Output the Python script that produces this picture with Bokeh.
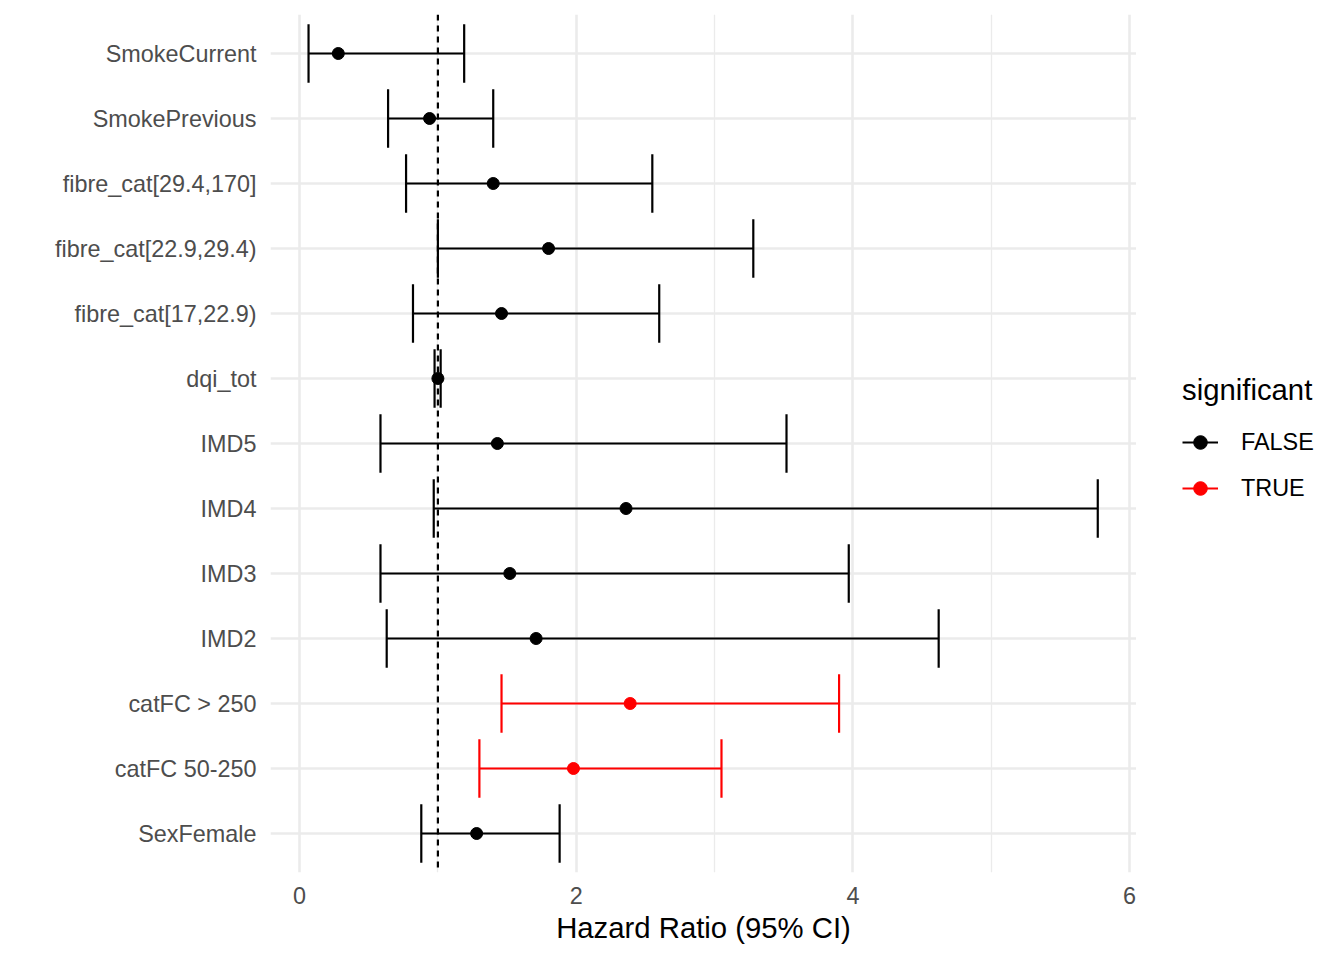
from bokeh.plotting import figure
from bokeh.layouts import row
from bokeh.models import ColumnDataSource, Span, Legend, LegendItem, FixedTicker, Range1d
from bokeh.embed import file_html
from bokeh.resources import INLINE

terms = ["SexFemale", "catFC 50-250", "catFC > 250", "IMD2", "IMD3", "IMD4", "IMD5",
         "dqi_tot", "fibre_cat[17,22.9)", "fibre_cat[22.9,29.4)", "fibre_cat[29.4,170]",
         "SmokePrevious", "SmokeCurrent"]
hr = [1.28, 1.98, 2.39, 1.71, 1.52, 2.36, 1.43, 1.00, 1.46, 1.80, 1.40, 0.94, 0.28]
lower = [0.88, 1.30, 1.46, 0.63, 0.585, 0.97, 0.585, 0.976, 0.82, 1.00, 0.77, 0.64, 0.065]
upper = [1.88, 3.05, 3.90, 4.62, 3.97, 5.77, 3.52, 1.02, 2.60, 3.28, 2.55, 1.40, 1.19]
significant = [False, True, True, False, False, False, False, False, False, False, False, False, False]
x_ticks = [0, 2, 4, 6]
x_minor = [1, 3, 5]

FONT = "Liberation Sans"
CAP = 0.45
H = 952
FH = 858

ypos = list(range(1, len(terms) + 1))

def subset(flag):
    idx = [i for i, s in enumerate(significant) if s == flag]
    return ColumnDataSource(dict(
        y=[ypos[i] for i in idx],
        hr=[hr[i] for i in idx],
        lo=[lower[i] for i in idx],
        hi=[upper[i] for i in idx],
        ylo=[ypos[i] - CAP for i in idx],
        yhi=[ypos[i] + CAP for i in idx],
    ))

p = figure(frame_width=866, frame_height=FH, output_backend="svg", toolbar_location=None,
           x_range=Range1d(-0.21, 6.05), y_range=Range1d(0.4, 13.6),
           min_border_left=270, min_border_right=0, min_border_top=14, min_border_bottom=H - 14 - FH)
p.outline_line_color = None
p.background_fill_color = "white"
p.border_fill_color = "white"

p.xaxis.ticker = FixedTicker(ticks=x_ticks, minor_ticks=x_minor)
p.yaxis.ticker = FixedTicker(ticks=ypos)
p.yaxis.major_label_overrides = {y: t for y, t in zip(ypos, terms)}

for ax in (p.xaxis, p.yaxis):
    ax.axis_line_color = None
    ax.major_tick_line_color = None
    ax.minor_tick_line_color = None
    ax.major_label_text_font = FONT
    ax.major_label_text_font_size = "23.4px"
    ax.major_label_text_color = "#4D4D4D"
p.yaxis.major_label_standoff = 8
p.xaxis.major_label_standoff = 8
p.xaxis.axis_label = "Hazard Ratio (95% CI)"
p.xaxis.axis_label_text_font = FONT
p.xaxis.axis_label_text_font_size = "29.3px"
p.xaxis.axis_label_text_font_style = "normal"
p.xaxis.axis_label_text_color = "black"
p.xaxis.axis_label_standoff = 4

p.xgrid.grid_line_color = "#EBEBEB"
p.xgrid.grid_line_width = 2.6
p.xgrid.minor_grid_line_color = "#EBEBEB"
p.xgrid.minor_grid_line_width = 1.3
p.ygrid.grid_line_color = "#EBEBEB"
p.ygrid.grid_line_width = 2.6

p.add_layout(Span(location=1, dimension="height", line_color="black",
                  line_dash="6 5", line_width=2.2))

# legend panel (its ranges keep the data out of view; only the legend glyphs show)
lg = figure(width=1344 - 8 - 1136 - 8, height=H, output_backend="svg", toolbar_location=None,
            x_axis_type=None, y_axis_type=None,
            x_range=Range1d(-200, -199), y_range=Range1d(-200, -199), min_border=0)
lg.outline_line_color = None
lg.xgrid.visible = False
lg.ygrid.visible = False
lg.border_fill_color = "white"

items = []
for flag, color, label in [(False, "black", "FALSE"), (True, "red", "TRUE")]:
    src = subset(flag)
    p.segment(x0="lo", x1="hi", y0="y", y1="y", source=src, line_color=color, line_width=2.2)
    p.segment(x0="lo", x1="lo", y0="ylo", y1="yhi", source=src, line_color=color, line_width=2.2)
    p.segment(x0="hi", x1="hi", y0="ylo", y1="yhi", source=src, line_color=color, line_width=2.2)
    p.scatter(x="hr", y="y", source=src, size=12, fill_color=color, line_color=color)
    ln = lg.line(x="hr", y="y", source=src, line_color=color, line_width=2.2)
    pt = lg.scatter(x="hr", y="y", source=src, size=12, fill_color=color, line_color=color)
    items.append(LegendItem(label=label, renderers=[ln, pt]))

legend = Legend(items=items, location=(46, 367), title="significant",
                title_text_font=FONT, title_text_font_size="29.3px", title_text_color="black",
                title_text_font_style="normal",
                label_text_font=FONT, label_text_font_size="23.4px", label_text_color="black",
                border_line_color=None, background_fill_alpha=0,
                glyph_width=36, glyph_height=34, label_height=34, spacing=12, label_standoff=23,
                margin=0, padding=0, title_standoff=18)
lg.add_layout(legend, "center")

layout = row(p, lg)
open("out.html", "w").write(file_html(layout, INLINE))
